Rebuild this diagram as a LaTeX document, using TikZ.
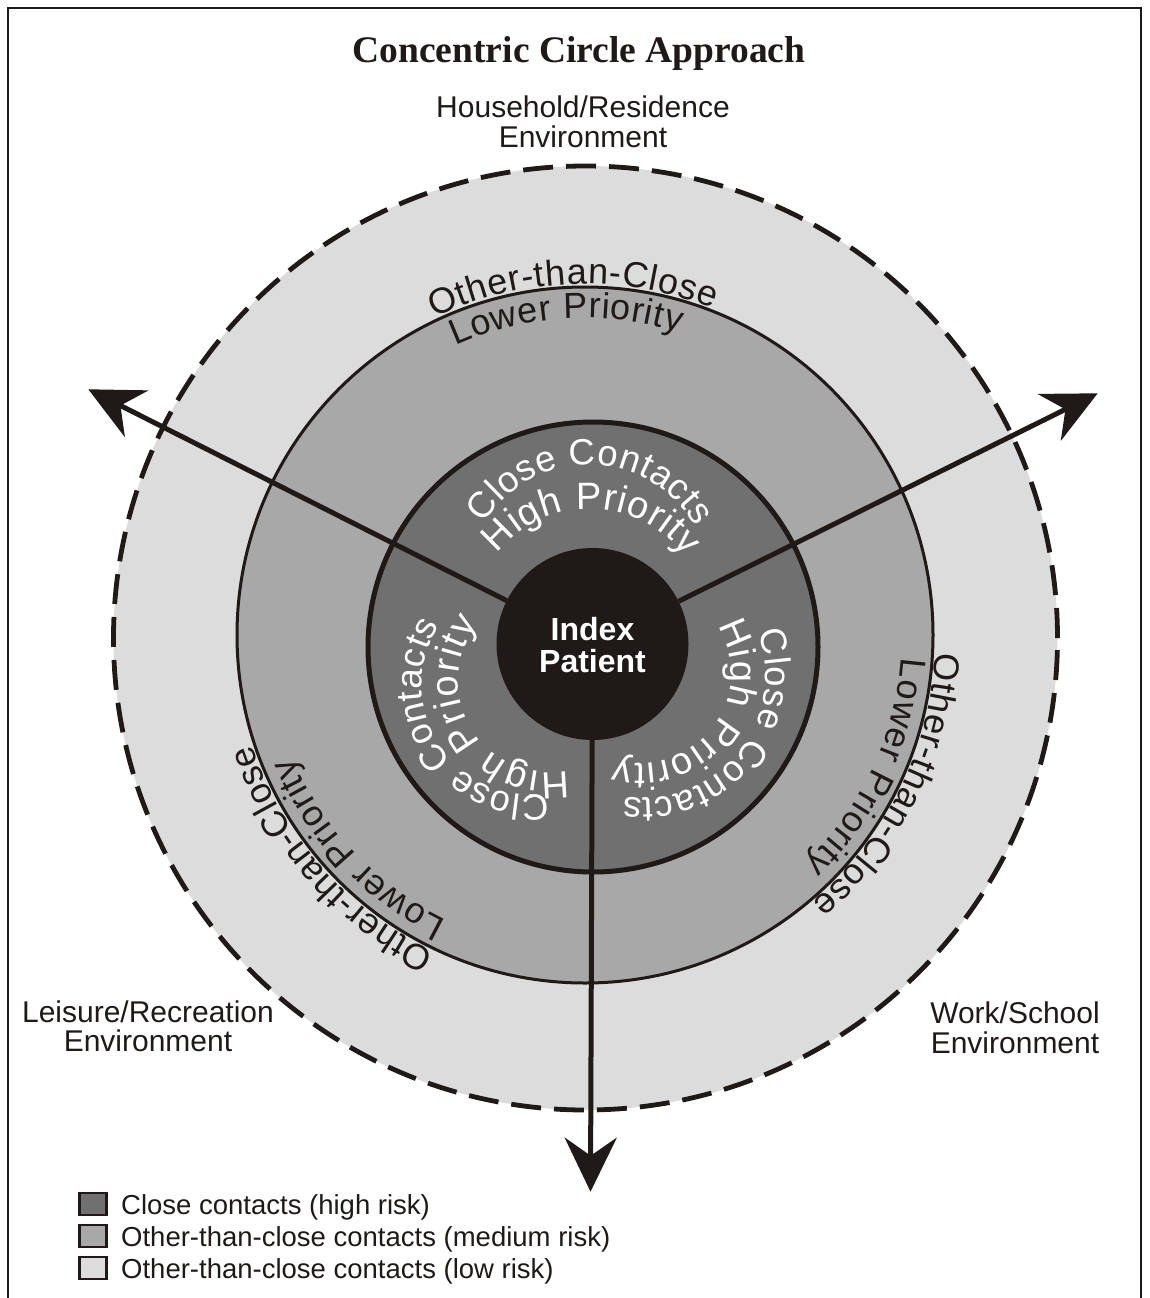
\documentclass[tikz,border=0pt]{standalone}
\usepackage{fontspec}
\setmainfont{Liberation Sans}
\newfontfamily\titlefont{Liberation Serif}
\usetikzlibrary{arrows.meta,decorations.text}
\definecolor{lightring}{HTML}{DCDCDC}
\definecolor{midring}{HTML}{A8A8A8}
\definecolor{darkring}{HTML}{707070}
\definecolor{ink}{HTML}{1F1A17}
\tikzset{
  arr/.style={draw=ink, line width=5pt, -{Stealth[length=54pt,width=52pt,inset=18pt]}},
  envlabel/.style={font=\fontsize{30}{32}\selectfont, text=ink, inner sep=0pt, anchor=base},
  idxlabel/.style={font=\bfseries\fontsize{32}{32}\selectfont, text=white, inner sep=0pt, anchor=base},
  legbox/.style={draw=ink, line width=2.5pt, minimum width=27pt, minimum height=22pt, inner sep=0pt},
  legtext/.style={font=\fontsize{27.5}{30}\selectfont, text=ink, inner sep=0pt, anchor=base west},
}
\newcommand{\curvtext}[6]{% center, radius, start, end, colour, text
  \path[shift={#1}, decorate, decoration={text along path, text color=#5, text align=fit to path, text={#6}}] (#3:#2) arc[start angle=#3, end angle=#4, radius=#2];}
\begin{document}
\begin{tikzpicture}[x=1pt,y=1pt]
\useasboundingbox (0,0) rectangle (1149,-1298);
\fill[white] (0,0) rectangle (1149,-1298);
% frame
\draw[ink, line width=2.5pt] (8,-1298) -- (8,-8) -- (1141,-8) -- (1141,-1298);
% rings
\fill[lightring] (585.5,-638) circle[radius=472];
\draw[ink, line width=4.8pt, dash pattern=on 30pt off 13pt] (585.5,-638) circle[radius=472];
\filldraw[fill=midring, draw=ink, line width=3pt] (585,-635) circle[radius=348];
\filldraw[fill=darkring, draw=ink, line width=5pt] (593,-647) circle[radius=225];
% index patient
\node[circle, fill=ink, minimum size=192pt, inner sep=0pt] (idx) at (592.5,-644) {};
\node[idxlabel] (idxA) at (592.5,-640) {Index};
\node[idxlabel] (idxB) at (592.5,-672) {Patient};
% arrows
\coordinate (tipL) at (88.3,-389.3);
\coordinate (tipR) at (1097.7,-393.3);
\coordinate (tipB) at (590.5,-1191.7);
\draw[arr] (idx) -- (tipL);
\draw[arr] (idx) -- (tipR);
\draw[arr] (idx) -- (tipB);
% inner curved texts
\curvtext{(589,-588)}{123}{148.8}{29.8}{white}{|\fontsize{36.5}{36.5}\selectfont|Close Contacts}
\curvtext{(590,-628)}{119}{141.4}{36.9}{white}{|\fontsize{38}{38}\selectfont|High Priority}
\curvtext{(642.6,-675.2)}{123}{20.6}{-98.7}{white}{|\fontsize{36.5}{36.5}\selectfont|Close Contacts}
\curvtext{(641,-673)}{90}{31.6}{-106.8}{white}{|\fontsize{38}{38}\selectfont|High Priority}
\curvtext{(531.8,-685.2)}{110}{278.6}{146.9}{white}{|\fontsize{36.5}{36.5}\selectfont|Close Contacts}
\curvtext{(549,-681)}{91}{282}{140.9}{white}{|\fontsize{38}{38}\selectfont|High Priority}
% medium curved texts
\curvtext{(585,-635)}{351}{115.4}{68.6}{ink}{|\fontsize{36}{36}\selectfont|Other-than-Close}
\curvtext{(585,-635)}{317}{114.2}{72.7}{ink}{|\fontsize{36}{36}\selectfont|Lower Priority}
\curvtext{(585,-635)}{351}{-2.9}{-49.7}{ink}{|\fontsize{36}{36}\selectfont|Other-than-Close}
\curvtext{(585,-635)}{317}{-4.1}{-46.1}{ink}{|\fontsize{36}{36}\selectfont|Lower Priority}
\curvtext{(585,-635)}{351}{244.6}{198.2}{ink}{|\fontsize{36}{36}\selectfont|Other-than-Close}
\curvtext{(585,-635)}{317}{244.1}{202.7}{ink}{|\fontsize{36}{36}\selectfont|Lower Priority}
% title and environment labels
\node[font=\titlefont\bfseries\fontsize{37.5}{40}\selectfont, text=ink, inner sep=0pt, anchor=base] (title) at (579,-63) {Concentric Circle Approach};
\node[envlabel] (houseA) at (583,-117) {Household/Residence};
\node[envlabel] (houseB) at (583,-147) {Environment};
\node[envlabel] (leisA) at (148,-1022) {Leisure/Recreation};
\node[envlabel] (leisB) at (148,-1051) {Environment};
\node[envlabel] (workA) at (1015,-1023) {Work/School};
\node[envlabel] (workB) at (1015,-1053) {Environment};
% legend
\node[legbox, fill=darkring] (sq1) at (93,-1204) {};
\node[legbox, fill=midring] (sq2) at (93,-1236) {};
\node[legbox, fill=lightring] (sq3) at (93,-1268) {};
\node[legtext] (lt1) at (121,-1214) {Close contacts (high risk)};
\node[legtext] (lt2) at (121,-1246) {Other-than-close contacts (medium risk)};
\node[legtext] (lt3) at (121,-1278) {Other-than-close contacts (low risk)};
\end{tikzpicture}
\end{document}
